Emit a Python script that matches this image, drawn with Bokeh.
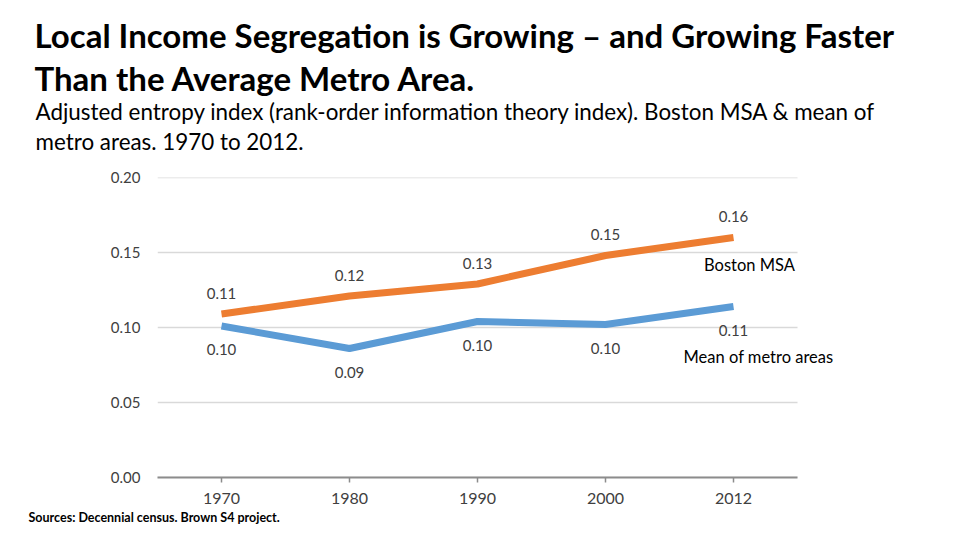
from bokeh.plotting import figure
from bokeh.models import ColumnDataSource, Title, FixedTicker, NumeralTickFormatter, Range1d
from bokeh.core.properties import value
from bokeh.embed import file_html
from bokeh.resources import INLINE

# ---- data ----
years = ["1970", "1980", "1990", "2000", "2012"]
boston = [0.109, 0.121, 0.129, 0.148, 0.160]
metro_mean = [0.101, 0.086, 0.104, 0.102, 0.114]
y_ticks = [0.0, 0.05, 0.10, 0.15, 0.20]

title_1 = "Local Income Segregation is Growing \u2013 and Growing Faster"
title_2 = "Than the Average Metro Area."
sub_1 = "Adjusted entropy index (rank-order information theory index). Boston MSA & mean of"
sub_2 = "metro areas. 1970 to 2012."
source_note = "Sources: Decennial census. Brown S4 project."
name_boston = "Boston MSA"
name_mean = "Mean of metro areas"

ORANGE = "#ED7D31"
BLUE = "#5B9BD5"
FONT = "Lato"

# categorical positions (one slot per year)
x_pos = list(range(len(years)))

src = ColumnDataSource(dict(
    x=x_pos,
    boston=boston,
    mean=metro_mean,
    boston_lbl=[f"{v:.2f}" for v in boston],
    mean_lbl=[f"{v:.2f}" for v in metro_mean],
))

# frame geometry (pixels)
W, H = 944, 532
FRAME_L, FRAME_T, FRAME_W, FRAME_H = 157, 177, 704, 300
SLOT = 128.0
Y_MAX = 0.2
x_start = -0.5
x_end = x_start + FRAME_W / SLOT

p = figure(width=W, height=H, title=None,
           x_range=Range1d(x_start, x_end), y_range=Range1d(0, Y_MAX),
           output_backend="svg", toolbar_location=None,
           min_border_left=FRAME_L, min_border_right=W - FRAME_L - FRAME_W,
           min_border_top=FRAME_T, min_border_bottom=H - FRAME_T - FRAME_H)
p.outline_line_color = None

# y axis
p.yaxis.ticker = FixedTicker(ticks=y_ticks)
p.yaxis.formatter = NumeralTickFormatter(format="0.00")
p.yaxis.axis_line_color = None
p.yaxis.major_tick_line_color = None
p.yaxis.minor_tick_line_color = None
p.yaxis.major_label_standoff = 11
p.yaxis.major_label_text_font = FONT
p.yaxis.major_label_text_font_size = "15px"
p.yaxis.major_label_text_color = "#404040"

# x axis (category slots)
p.xaxis.ticker = FixedTicker(ticks=x_pos)
p.xaxis.major_label_overrides = {i: y for i, y in zip(x_pos, years)}
p.xaxis.bounds = (x_start, len(years) - 0.5)
p.xaxis.axis_line_color = "#8C8C8C"
p.xaxis.axis_line_width = 2
p.xaxis.major_tick_line_color = "#8C8C8C"
p.xaxis.major_tick_line_width = 1.5
p.xaxis.minor_tick_line_color = None
p.xaxis.major_tick_out = 5
p.xaxis.major_tick_in = 0
p.xaxis.major_label_standoff = 10
p.xaxis.major_label_text_font = FONT
p.xaxis.major_label_text_font_size = "16px"
p.xaxis.major_label_text_color = "#404040"

# horizontal gridlines limited to the category area
p.xgrid.grid_line_color = None
p.ygrid.grid_line_color = None
p.segment(x0=x_start, x1=len(years) - 0.5, y0=y_ticks, y1=y_ticks,
          line_color="#D9D9D9", line_width=1.5)

# lines
p.line(x="x", y="mean", source=src, line_color=BLUE, line_width=7, line_join="round")
p.line(x="x", y="boston", source=src, line_color=ORANGE, line_width=7, line_join="round")

# value labels
p.text(x="x", y="boston", text="boston_lbl", source=src, y_offset=-21,
       text_align="center", text_baseline="middle", text_font=value(FONT),
       text_font_size="15px", text_color="#404040")
p.text(x="x", y="mean", text="mean_lbl", source=src, y_offset=23.5,
       text_align="center", text_baseline="middle", text_font=value(FONT),
       text_font_size="15px", text_color="#404040")

# series names next to the last points
p.text(x=[x_pos[-1]], y=[boston[-1]], text=[name_boston], x_offset=16, y_offset=27,
       text_align="center", text_baseline="middle", text_font=value(FONT),
       text_font_size="16.5px", text_color="black")
p.text(x=[x_pos[-1]], y=[metro_mean[-1]], text=[name_mean], x_offset=25, y_offset=50,
       text_align="center", text_baseline="middle", text_font=value(FONT),
       text_font_size="16.5px", text_color="black")

# titles (stacked upward from the frame: first added is nearest)
TITLE_X = 34 - FRAME_L
p.add_layout(Title(text=" ", text_font_size="10px", standoff=8.7), "above")
p.add_layout(Title(text=sub_1 + "\n" + sub_2, text_font=FONT, text_font_size="22.4px",
                   text_font_style="normal", text_color="black", align="left",
                   offset=TITLE_X + 1, standoff=0, text_line_height=1.115), "above")
p.add_layout(Title(text=title_1 + "\n" + title_2, text_font=FONT, text_font_size="33px",
                   text_font_style="bold", text_color="black", align="left",
                   offset=TITLE_X, standoff=-3, text_line_height=1.073), "above")

# source note below the x axis
p.add_layout(Title(text=source_note, text_font=FONT, text_font_size="12.5px",
                   text_font_style="bold", text_color="black", align="left",
                   vertical_align="top", offset=28 - FRAME_L, standoff=7), "below")

open("out.html", "w").write(file_html(p, INLINE))
